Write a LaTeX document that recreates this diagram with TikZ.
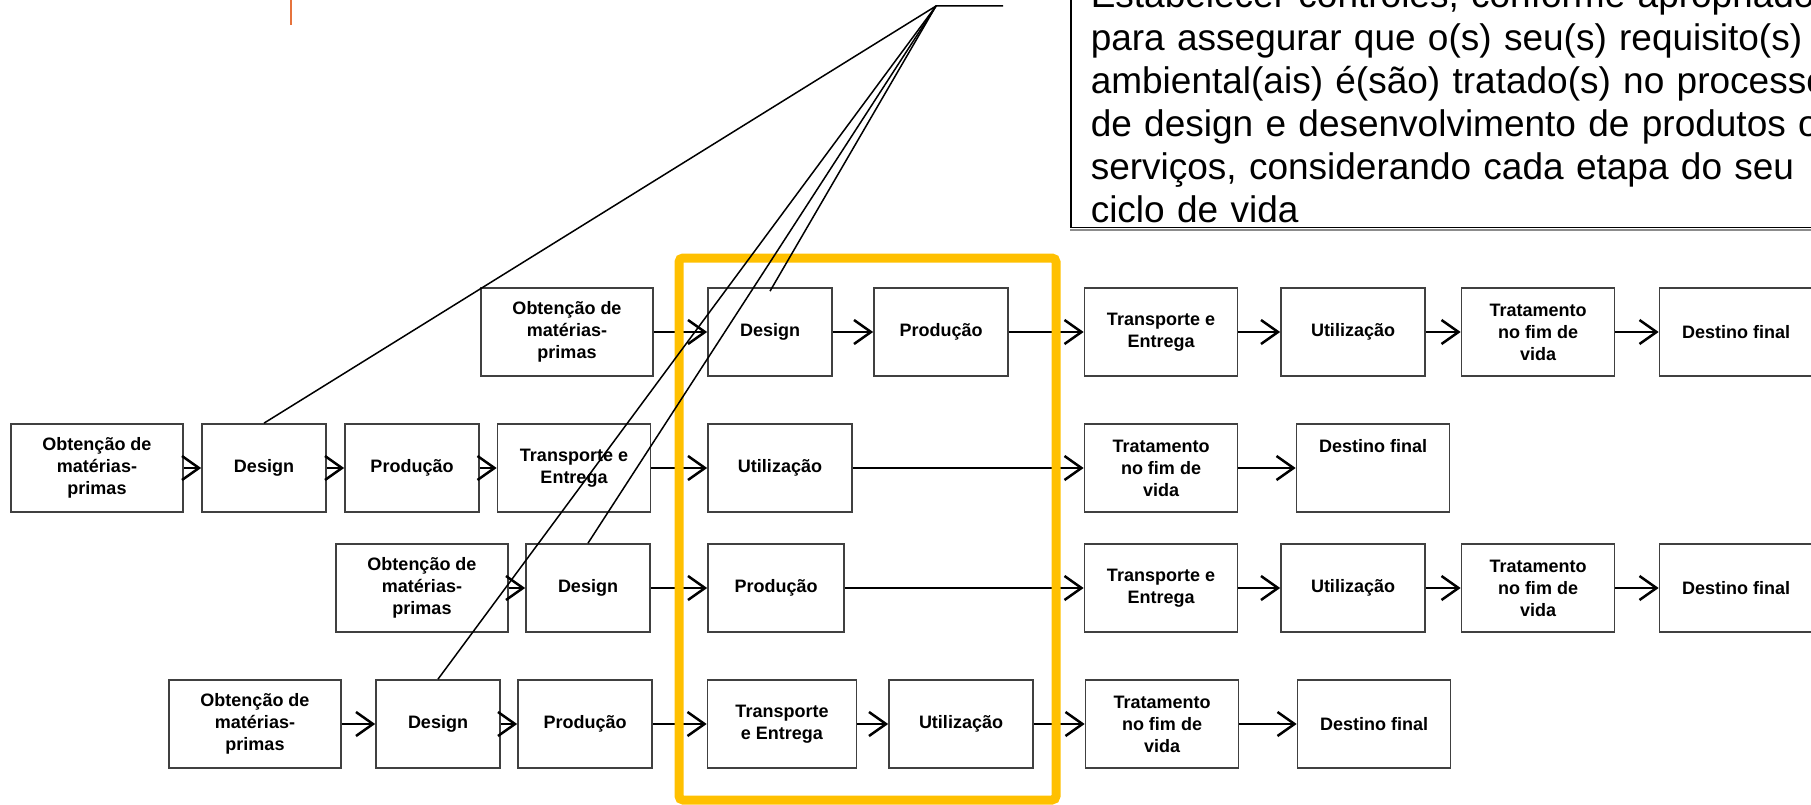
\documentclass[tikz,border=0pt]{standalone}
\usepackage{fontspec}
\setmainfont{Liberation Sans}
\usetikzlibrary{arrows.meta}
\definecolor{gold}{RGB}{255,192,0}
\definecolor{rust}{RGB}{230,115,60}

\begin{document}
\begin{tikzpicture}[%
 x=1pt,y=-1pt,
 block/.style={
 	rectangle,
 	draw=black!75,
 	line width=1.7pt,
 	fill=white,
 	minimum width=#1,
 	minimum height=88pt,
 	inner sep=2pt,
 	align=center,
 	font=\fontsize{18}{22}\selectfont\bfseries
 },
 block/.default=153pt,
 line/.style={
 	draw,
 	line width=2.5pt,
 	-{Straight Barb[length=17pt,width=24pt]}
 },
 note/.style={
 	rectangle,
 	draw=black,
 	line width=1.5pt,
 	fill=white,
 	anchor=south west,
 	text width=780pt,
 	inner xsep=20pt,
 	inner ysep=4pt,
 	align=left,
 	font=\fontsize{37}{43}\selectfont
 },
 callout/.style={
 	draw,
 	line width=1.5pt
 },
 frame/.style={
 	draw=gold,
 	line width=9pt,
 	rounded corners=4pt
 }
 ]
 \useasboundingbox (0,0) rectangle (1811,805);
 \draw[rust,line width=2.5pt] (291,0) -- (291,25);

 \path (567,332) node[block=172pt] (O1) {Obtenção de\\matérias-\\primas}
 (770,332) node[block=124pt] (D1) {Design}
 (941,332) node[block=134pt] (P1) {Produção}
 (1161,332) node[block] (T1) {Transporte e\\Entrega}
 (1353,332) node[block=144pt] (U1) {Utilização}
 (1538,332) node[block] (R1) {Tratamento\\no fim de\\vida}
 (1736,332) node[block] (F1) {Destino final};

 \path (97,468) node[block=172pt] (O2) {Obtenção de\\matérias-\\primas}
 (264,468) node[block=124pt] (D2) {Design}
 (412,468) node[block=134pt] (P2) {Produção}
 (574,468) node[block] (T2) {Transporte e\\Entrega}
 (780,468) node[block=144pt] (U2) {Utilização}
 (1161,468) node[block] (R2) {Tratamento\\no fim de\\vida}
 (1373,468) node[block,text depth=44pt] (F2) {Destino final};

 \path (422,588) node[block=172pt] (O3) {Obtenção de\\matérias-\\primas}
 (588,588) node[block=124pt] (D3) {Design}
 (776,588) node[block=136pt] (P3) {Produção}
 (1161,588) node[block] (T3) {Transporte e\\Entrega}
 (1353,588) node[block=144pt] (U3) {Utilização}
 (1538,588) node[block] (R3) {Tratamento\\no fim de\\vida}
 (1736,588) node[block] (F3) {Destino final};

 \path (255,724) node[block=172pt] (O4) {Obtenção de\\matérias-\\primas}
 (438,724) node[block=124pt] (D4) {Design}
 (585,724) node[block=134pt] (P4) {Produção}
 (782,724) node[block=149pt] (T4) {Transporte\\e Entrega}
 (961,724) node[block=144pt] (U4) {Utilização}
 (1162,724) node[block] (R4) {Tratamento\\no fim de\\vida}
 (1374,724) node[block] (F4) {Destino final};

\draw[line] (O1) -- (D1);
\draw[line] (D1) -- (P1);
\draw[line] (P1) -- (T1);
\draw[line] (T1) -- (U1);
\draw[line] (U1) -- (R1);
\draw[line] (R1) -- (F1);

\draw[line] (O2) -- (D2);
\draw[line] (D2) -- (P2);
\draw[line] (P2) -- (T2);
\draw[line] (T2) -- (U2);
\draw[line] (U2) -- (R2);
\draw[line] (R2) -- (F2);

\draw[line] (O3) -- (D3);
\draw[line] (D3) -- (P3);
\draw[line] (P3) -- (T3);
\draw[line] (T3) -- (U3);
\draw[line] (U3) -- (R3);
\draw[line] (R3) -- (F3);

\draw[line] (O4) -- (D4);
\draw[line] (D4) -- (P4);
\draw[line] (P4) -- (T4);
\draw[line] (T4) -- (U4);
\draw[line] (U4) -- (R4);
\draw[line] (R4) -- (F4);

 \draw[frame] (679,258) rectangle (1056,800);

 \draw (1070,228) node[note] (N) {Estabelecer controles, conforme apropriado,\\para assegurar que o(s) seu(s) requisito(s)\\ambiental(ais) é(são) tratado(s) no processo\\de design e desenvolvimento de produtos ou\\serviços, considerando cada etapa do seu\\ciclo de vida};
 \draw[black!45,line width=1.5pt] ([yshift=-2pt]N.south west) -- ([yshift=-2pt]N.south east);

\coordinate (tail) at (1003,6);
\coordinate (knee) at (936,6);
\draw[callout] (tail) -- (knee) -- ([yshift=-4pt]D1.north);
\draw[callout] (knee) -- (D2.north);
\draw[callout] (knee) -- (D3.north);
\draw[callout] (knee) -- (D4.north);
 \end{tikzpicture}
\end{document}
